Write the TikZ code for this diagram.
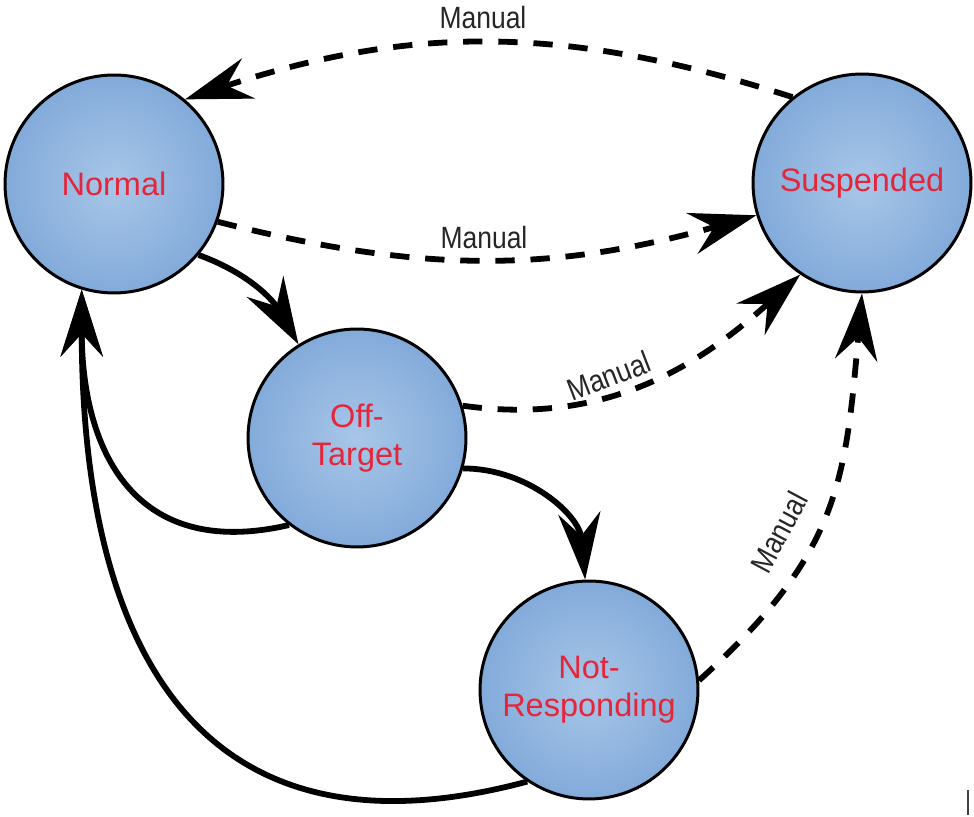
\documentclass[tikz,border=0pt]{standalone}
\usepackage{fontspec}
\setmainfont{Liberation Sans}
\newfontfamily\narrowfont[FakeStretch=0.86]{Liberation Sans}
\usetikzlibrary{arrows.meta}

\definecolor{ballin}{RGB}{168,198,232}
\definecolor{ballmid}{RGB}{120,163,214}
\definecolor{ballout}{RGB}{70,108,175}
\definecolor{statered}{RGB}{228,38,58}
\pgfdeclareradialshading{stateball}{\pgfpointorigin}{color(0bp)=(ballin); color(32bp)=(ballmid); color(50bp)=(ballout)}

\begin{document}
\begin{tikzpicture} [
    x=0.02cm, y=0.02cm,
    status/.style={circle, draw=black, line width=1.7pt, minimum size=4.36cm, inner sep=0pt, shade, shading=stateball, text=statered, font=\fontsize{18.5}{21.5}\selectfont, align=center},
    trans/.style={-{Stealth[length=38pt, width=24pt, inset=13pt]}, line width=3.3pt},
    manual/.style={trans, dash pattern=on 11pt off 9pt},
    lbl/.style={font=\narrowfont\fontsize{17.5}{20}\selectfont, text=black!85, inner sep=1pt}
]
\useasboundingbox (0,0) rectangle (974,817);

% LAYER 1: the four states
\node[status] (norm) at (114,633) {Normal};
\node[status] (susp) at (862,634) {Suspended};
\node[status] (offt) at (357,379) {Off-\\Target};
\node[status] (notr) at (589,127) {Not-\\Responding};

% LAYER 2: manual transitions
\draw[manual] (susp.129) to[bend right=18] (norm.50);
\draw[manual] (norm.-20) to[bend right=15] (susp.197);
\draw[manual] (offt.17) to[out=-8, in=222] (susp.236);
\draw[manual] (notr.5) to[out=42, in=-95, looseness=1.15] (susp.270);

% LAYER 3: automatic transitions
\draw[trans] (norm.-40) to[out=-20, in=120] (offt.122);
\draw[trans] (offt.-16) to[out=0, in=95] (notr.92);
\draw[trans] (offt.232) to[out=193, in=-90, looseness=1.3] (norm.253);
\draw[trans] (notr.236) to[out=195, in=-90, out looseness=1.3, in looseness=1.4] (norm.253);

% LAYER 4: labels
\node[lbl] (mTop) at (483,799) {Manual};
\node[lbl] (mMid) at (484,579) {Manual};
\node[lbl, rotate=21] (mDiag) at (609,441) {Manual};
\node[lbl, rotate=62] (mVert) at (779,285) {Manual};

\draw[line width=1.1pt, black!75] (968,2) -- (968,27);

\end{tikzpicture}
\end{document}
